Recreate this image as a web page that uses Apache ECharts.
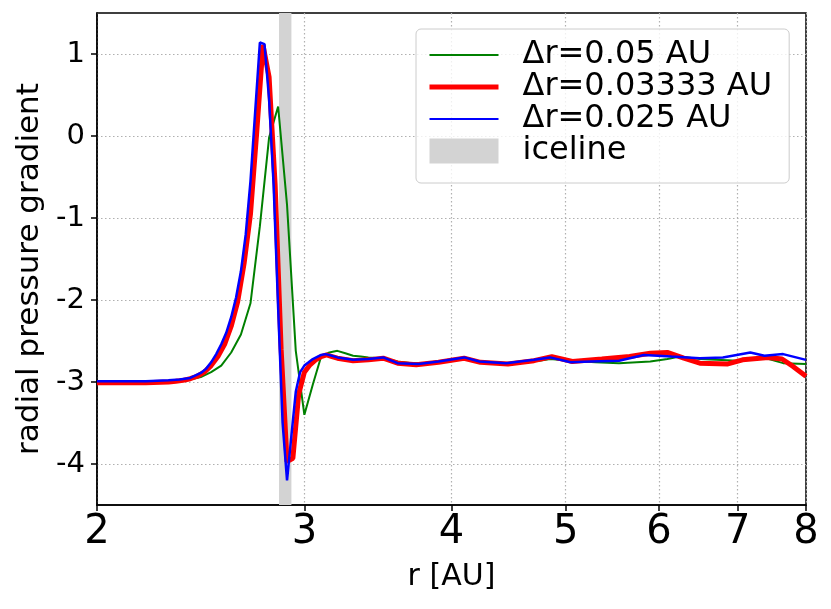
<!DOCTYPE html>
<html>
<head>
<meta charset="utf-8">
<title>radial pressure gradient</title>
<script src="https://cdn.jsdelivr.net/npm/echarts@6.0.0/dist/echarts.min.js"></script>
<style>
  html, body { margin: 0; padding: 0; background: #fff; }
  #main { width: 831px; height: 609px; }
</style>
</head>
<body>
<div id="main"></div>
<script>
// tick labels
var xTicks = [2, 3, 4, 5, 6, 7, 8];
var yTicks = [-4, -3, -2, -1, 0, 1];
// iceline band [AU]
var iceline = [2.855, 2.925];

// dr = 0.05 AU
var rGreen = [2.0, 2.1, 2.2, 2.3, 2.35, 2.4, 2.45, 2.5, 2.55, 2.6, 2.65, 2.7, 2.75, 2.8, 2.85, 2.9, 2.95, 3.0,
  3.05, 3.1, 3.15, 3.2, 3.25, 3.3, 3.35, 3.4, 3.5, 3.6, 3.7, 3.8, 3.9, 4.0, 4.1, 4.2, 4.3, 4.45, 4.6, 4.75,
  4.85, 5.05, 5.3, 5.55, 5.9, 6.1, 6.25, 6.5, 7.0, 7.35, 7.65, 8.0];
var pGreen = [-3.00, -3.00, -3.00, -3.00, -2.99, -2.97, -2.94, -2.88, -2.80, -2.64, -2.42, -2.04, -1.10, -0.02, 0.36, -0.84, -2.62, -3.40,
  -3.03, -2.69, -2.64, -2.62, -2.65, -2.68, -2.69, -2.70, -2.71, -2.75, -2.77, -2.77, -2.75, -2.73, -2.71, -2.74, -2.76, -2.77, -2.76, -2.74,
  -2.72, -2.74, -2.76, -2.77, -2.75, -2.72, -2.69, -2.72, -2.74, -2.70, -2.77, -2.78];

// dr = 0.03333 AU
var rRed = [2.0, 2.1, 2.2, 2.3, 2.3333, 2.3667, 2.4, 2.4333, 2.4667, 2.5, 2.5333, 2.5667, 2.6, 2.6333, 2.6667, 2.7, 2.7333, 2.7667,
  2.8, 2.8333, 2.8667, 2.9, 2.9333, 2.9667, 3.0, 3.0333, 3.0667, 3.1, 3.1333, 3.1667, 3.2, 3.3, 3.4, 3.5, 3.6, 3.7333, 3.9,
  4.1, 4.2333, 4.4667, 4.7, 4.8667, 5.0667, 5.3667, 5.6667, 5.9, 6.1, 6.3, 6.5, 6.8667, 7.0667, 7.4333, 7.6333, 7.8, 8.0];
var pRed = [-3.01, -3.01, -3.01, -3.00, -2.99, -2.98, -2.96, -2.93, -2.88, -2.80, -2.69, -2.54, -2.32, -2.02, -1.55, -0.95, 0.05, 1.11,
  0.72, -0.60, -2.60, -3.97, -3.93, -3.15, -2.88, -2.79, -2.73, -2.69, -2.67, -2.69, -2.71, -2.74, -2.73, -2.71, -2.77, -2.79, -2.76,
  -2.71, -2.76, -2.78, -2.74, -2.69, -2.75, -2.72, -2.69, -2.65, -2.64, -2.71, -2.77, -2.78, -2.73, -2.70, -2.72, -2.81, -2.93];

// dr = 0.025 AU
var rBlue = [2.0, 2.1, 2.2, 2.3, 2.35, 2.4, 2.45, 2.475, 2.5, 2.525, 2.55, 2.575, 2.6, 2.625, 2.65, 2.675, 2.7, 2.725, 2.75,
  2.775, 2.8, 2.825, 2.85, 2.875, 2.9, 2.925, 2.95, 2.975, 3.0, 3.025, 3.05, 3.1, 3.125, 3.15, 3.2, 3.3, 3.4, 3.5, 3.6, 3.75,
  3.9, 4.1, 4.225, 4.45, 4.7, 4.85, 5.05, 5.25, 5.55, 5.825, 6.15, 6.5, 6.8, 7.175, 7.375, 7.65, 8.0];
var pBlue = [-2.99, -2.99, -2.99, -2.98, -2.97, -2.95, -2.89, -2.84, -2.76, -2.66, -2.54, -2.40, -2.21, -1.97, -1.65, -1.20, -0.55, 0.30, 1.14,
  1.12, 0.45, -0.60, -2.10, -3.50, -4.20, -3.65, -3.12, -2.88, -2.80, -2.76, -2.72, -2.67, -2.66, -2.67, -2.70, -2.73, -2.72, -2.70, -2.77, -2.78,
  -2.75, -2.70, -2.75, -2.77, -2.73, -2.70, -2.76, -2.75, -2.74, -2.67, -2.69, -2.71, -2.70, -2.64, -2.68, -2.66, -2.73];

var font = 'DejaVu Sans';

function lg(v) { return Math.log10(v); }
// log axis drawn on a value axis: x -> log10(r)
function pairs(r, p) {
  return r.map(function (v, i) { return [lg(v), p[i]]; });
}

var gridLine = { show: true, lineStyle: { color: '#b0b0b0', type: [1.5, 2.5], width: 1.2 } };

var myChart = echarts.init(document.getElementById('main'));

var option = {
  animation: false,
  backgroundColor: '#fff',
  grid: {
    left: 97, right: 25, top: 13, bottom: 104,
    show: true, borderColor: '#000', borderWidth: 1.5, backgroundColor: 'transparent'
  },
  legend: {
    left: 416, top: 29,
    orient: 'vertical',
    padding: [10, 17, 16, 11],
    itemWidth: 69, itemHeight: 25, itemGap: 0,
    borderColor: '#cccccc', borderWidth: 1, borderRadius: 5,
    backgroundColor: 'rgba(255,255,255,0.8)',
    itemStyle: { opacity: 0 },
    textStyle: { fontFamily: font, fontSize: 32, lineHeight: 32, color: '#000', padding: [0, 0, 0, 19] },
    data: [
      { name: 'Δr=0.05 AU', lineStyle: { width: 2 } },
      { name: 'Δr=0.03333 AU', lineStyle: { width: 5 } },
      { name: 'Δr=0.025 AU', lineStyle: { width: 2 } },
      { name: 'iceline', icon: 'rect', itemStyle: { color: '#d3d3d3', opacity: 1 } }
    ]
  },
  xAxis: {
    type: 'value',
    min: lg(2), max: lg(8),
    name: 'r [AU]',
    nameLocation: 'middle',
    nameGap: 57,
    nameTextStyle: { fontFamily: font, fontSize: 30, color: '#000' },
    axisLine: { onZero: false, lineStyle: { color: '#000', width: 1.5 } },
    axisTick: { length: 6, lineStyle: { color: '#000', width: 1.5 }, customValues: xTicks.map(lg) },
    axisLabel: {
      customValues: xTicks.map(lg),
      formatter: function (v) { return Math.round(Math.pow(10, v)); },
      fontFamily: font, fontSize: 40, color: '#000', margin: 8
    },
    splitLine: gridLine
  },
  yAxis: {
    type: 'value',
    min: -4.5, max: 1.5,
    name: 'radial pressure gradient',
    nameLocation: 'middle',
    nameGap: 49,
    nameTextStyle: { fontFamily: font, fontSize: 31, color: '#000', padding: [0, 20, 0, 0] },
    axisLine: { show: true, onZero: false, lineStyle: { color: '#000', width: 1.5 } },
    axisTick: { show: true, length: 6, lineStyle: { color: '#000', width: 1.5 }, customValues: yTicks },
    axisLabel: {
      customValues: yTicks,
      fontFamily: font, fontSize: 29, color: '#000', margin: 12
    },
    splitLine: gridLine
  },
  series: [
    {
      name: 'Δr=0.05 AU', type: 'line', data: pairs(rGreen, pGreen),
      symbol: 'none', color: '#008000', lineStyle: { color: '#008000', width: 2 },
      markArea: {
        silent: true,
        itemStyle: { color: '#d3d3d3', opacity: 1 },
        data: [[{ xAxis: lg(iceline[0]) }, { xAxis: lg(iceline[1]) }]]
      }
    },
    {
      name: 'Δr=0.03333 AU', type: 'line', data: pairs(rRed, pRed),
      symbol: 'none', color: '#ff0000', lineStyle: { color: '#ff0000', width: 5 }
    },
    {
      name: 'Δr=0.025 AU', type: 'line', data: pairs(rBlue, pBlue),
      symbol: 'none', color: '#0000ff', lineStyle: { color: '#0000ff', width: 2.5 }
    },
    { name: 'iceline', type: 'line', data: [], color: '#d3d3d3' }
  ]
};

myChart.setOption(option);
</script>
</body>
</html>
